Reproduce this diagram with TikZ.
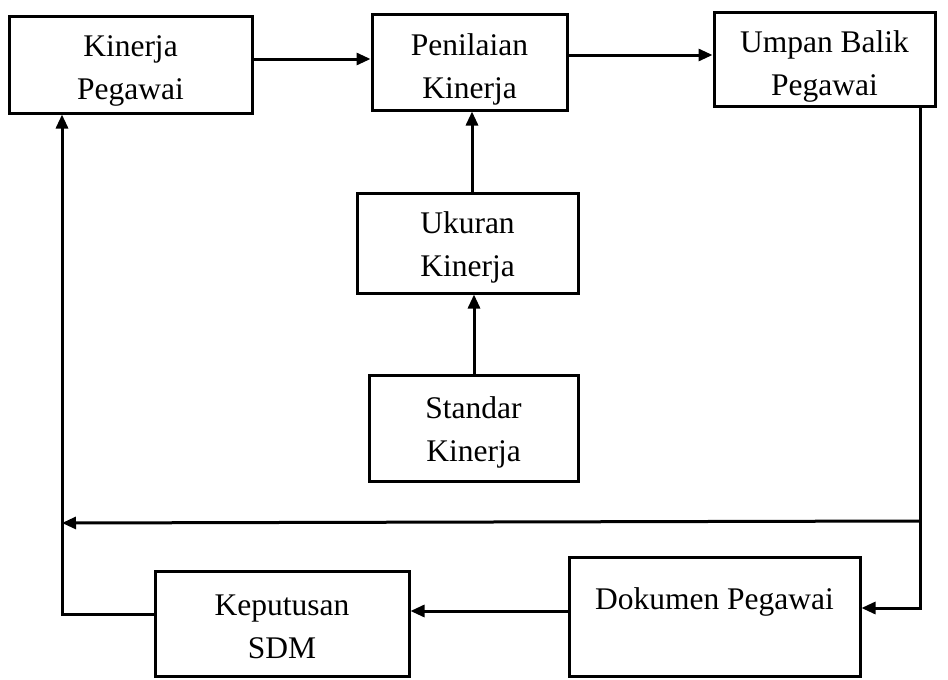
\documentclass[tikz,border=0pt]{standalone}
\usepackage{fontspec}
\setmainfont{Liberation Serif}
\usetikzlibrary{arrows.meta}
\tikzset{
  box/.style={draw, line width=3pt, rectangle, inner sep=0pt},
  txt/.style={align=center, inner sep=0pt, font=\fontsize{31.5}{43}\selectfont},
  arr/.style={line width=3pt, -{Triangle[length=14pt,width=12pt]}},
}
\begin{document}
\begin{tikzpicture}[x=1pt,y=-1pt]
\useasboundingbox (0,0) rectangle (948,680);
\node[box, minimum width=243pt, minimum height=97pt] (kp) at (130.5,64.5) {};
\node[box, minimum width=195pt, minimum height=96pt] (pk) at (469.5,62) {};
\node[box, minimum width=221pt, minimum height=94pt] (ub) at (824.5,59) {};
\node[box, minimum width=221pt, minimum height=100pt] (uk) at (467.5,243) {};
\node[box, minimum width=209pt, minimum height=106pt] (sk) at (473.5,428) {};
\node[box, minimum width=254pt, minimum height=105pt] (ks) at (282,623.5) {};
\node[box, minimum width=291pt, minimum height=119pt] (dp) at (714.5,616.5) {};
\node[txt] (kpt) at ([yshift=-6pt]kp.center) {Kinerja\\Pegawai};
\node[txt] (pkt) at ([yshift=-7pt]pk.center) {Penilaian\\Kinerja};
\node[txt] (ubt) at ([yshift=-7pt]ub.center) {Umpan Balik\\Pegawai};
\node[txt] (ukt) at ([yshift=-4pt]uk.center) {Ukuran\\Kinerja};
\node[txt] (skt) at ([yshift=-4pt]sk.center) {Standar\\Kinerja};
\node[txt] (kst) at ([yshift=-3pt]ks.center) {Keputusan\\SDM};
\node[txt] (dpt) at (714.5,602) {Dokumen Pegawai};
\coordinate (rt) at (920,521);
\coordinate (lt) at (62,523);
\coordinate (lb) at (62,614);
\draw[arr] (kp.east |- 0,59) -- (pk.west |- 0,59);
\draw[arr] (pk.east |- 0,55) -- (ub.west |- 0,55);
\draw[arr] (uk.north -| 472,0) -- (pk.south -| 472,0);
\draw[arr] (sk.north -| 474,0) -- (uk.south -| 474,0);
\draw[arr] (ub.south -| rt) -- (rt) -- (rt |- 0,608) -- (dp.east |- 0,608);
\draw[arr] (rt) -- (lt);
\draw[arr] (ks.west |- lb) -- (lb) -- (kp.south -| lb);
\draw[arr] (dp.west |- 0,611) -- (ks.east |- 0,611);
\end{tikzpicture}
\end{document}
